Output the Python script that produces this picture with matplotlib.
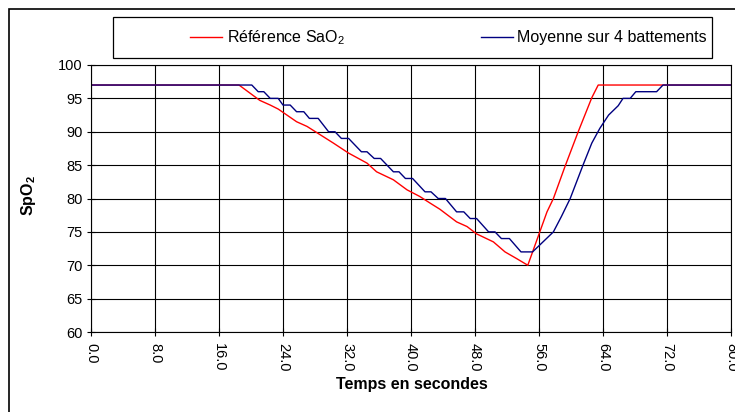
import matplotlib
matplotlib.use("Agg")
import matplotlib.pyplot as plt
import matplotlib.ticker as ticker
from matplotlib.patches import Rectangle

plt.rcParams['font.family'] = ['Liberation Sans', 'DejaVu Sans']
plt.rcParams['mathtext.fontset'] = 'custom'
plt.rcParams['mathtext.rm'] = 'Liberation Sans'
plt.rcParams['mathtext.bf'] = 'Liberation Sans:bold'
plt.rcParams['mathtext.default'] = 'regular'

# reference SaO2 (red)
ref_t = [0, 18.5, 21.1, 22.4, 23.4, 25.7, 27.0, 30.3, 32.2, 34.5, 35.7, 37.8, 39.5,
         41.1, 42.4, 43.6, 45.7, 47.0, 48.2, 50.3, 51.75, 53.2, 54.6, 56.1, 57.0,
         57.8, 59.25, 60.9, 62.6, 63.4, 80]
ref_v = [97, 97, 94.7, 94.0, 93.4, 91.5, 90.8, 88.3, 86.8, 85.3, 84.0, 82.8, 81.3,
         80.3, 79.3, 78.4, 76.5, 75.8, 74.7, 73.5, 72.0, 71.0, 70.0, 75.0, 78.0,
         80.0, 84.8, 90.0, 95.1, 97, 97]

# moyenne sur 4 battements (blue)
moy_t = [0, 20.1, 20.9, 21.6, 22.4, 23.4, 24.0, 24.9, 25.7, 26.6, 27.3, 28.4,
         29.7, 30.5, 31.3, 32.2, 33.8, 34.5, 35.4, 36.2, 37.8, 38.5, 39.3, 40.2,
         41.75, 42.5, 43.4, 44.3, 45.7, 46.6, 47.4, 48.2, 49.7, 50.5, 51.3, 52.3,
         53.75, 55.2, 57.8, 58.8, 59.9, 60.7, 61.5, 62.6, 63.6, 64.7, 65.9, 66.5,
         67.4, 68.1, 70.7, 71.5, 80]
moy_v = [97, 97, 96, 96, 95, 95, 94, 94, 93, 93, 92, 92,
         90, 90, 89, 89, 87, 87, 86, 86, 84, 84, 83, 83,
         81, 81, 80, 80, 78, 78, 77, 77, 75, 75, 74, 74,
         72, 72, 75, 77.3, 80, 82.5, 85, 88.3, 90.5, 92.5, 93.9, 95,
         95, 96, 96, 97, 97]

x_ticks = [0, 8, 16, 24, 32, 40, 48, 56, 64, 72, 80]
y_ticks = [60, 65, 70, 75, 80, 85, 90, 95, 100]

W, H = 735, 412
fig = plt.figure(figsize=(W / 100, H / 100), dpi=100)
ax = fig.add_axes([91 / W, 1 - 332 / H, 640 / W, 267 / H])

ax.plot(ref_t, ref_v, color='#ff0000', lw=1.0, label=r'Référence SaO$_2$')
ax.plot(moy_t, moy_v, color='#000080', lw=1.0, label='Moyenne sur 4 battements')

ax.set_xlim(0, 80)
ax.set_ylim(60, 100)
ax.set_xticks(x_ticks)
ax.set_yticks(y_ticks)
ax.xaxis.set_major_formatter(ticker.FormatStrFormatter('%.1f'))
ax.grid(True, color='black', lw=0.8)
ax.set_axisbelow(True)
for sp in ax.spines.values():
    sp.set_color('black')
    sp.set_linewidth(0.8)
ax.tick_params(axis='both', direction='inout', length=6, width=0.8, labelsize=10.5)
ax.tick_params(axis='x', pad=5)
ax.tick_params(axis='y', pad=3)
for lab in ax.get_xticklabels():
    lab.set_rotation(-90)
    lab.set_va('top')
    lab.set_ha('center')

fig.text(29 / W, 1 - 196 / H, r'Sp$\mathbf{O_2}$', rotation=90, fontweight='bold',
         fontsize=11.5, ha='center', va='center')
fig.text(412 / W, 1 - 385 / H, 'Temps en secondes', fontweight='bold',
         fontsize=11.5, ha='center', va='center')

# outer border and legend box
fig.add_artist(Rectangle((9 / W, -0.1), 1.2, 1 - 9 / H + 0.1, transform=fig.transFigure,
                         fill=False, ec='black', lw=1.2))
fig.add_artist(Rectangle((113 / W, 1 - 58 / H), 599 / W, 41 / H, transform=fig.transFigure,
                         fill=False, ec='black', lw=0.9))
handles, labels = ax.get_legend_handles_labels()
fig.legend(handles, labels, loc='center', bbox_to_anchor=(448.5 / W, 1 - 37.5 / H),
           ncol=2, frameon=False, fontsize=11.5, handlelength=2.0, handletextpad=0.3,
           columnspacing=8.5)

fig.savefig('out.png', dpi=100)
